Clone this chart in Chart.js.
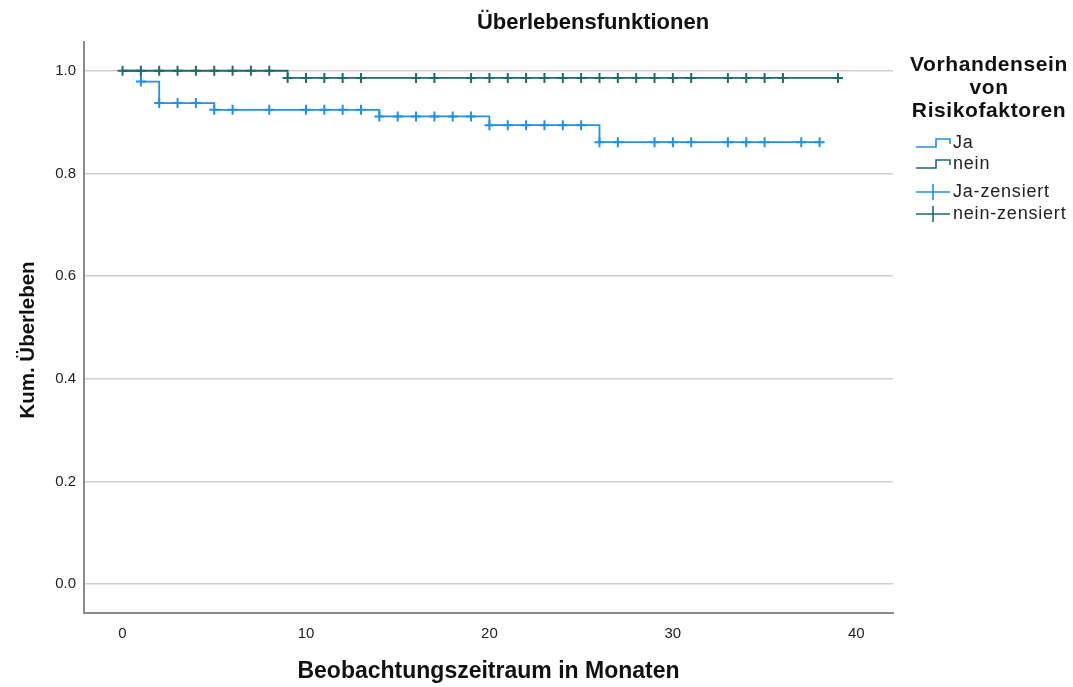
<!DOCTYPE html>
<html>
<head>
<meta charset="utf-8">
<script src="https://cdn.jsdelivr.net/npm/chart.js@4/dist/chart.umd.min.js"></script>
<style>
  html, body { margin: 0; padding: 0; background: #ffffff; }
  #wrap { width: 1073px; height: 687px; position: relative; }
</style>
</head>
<body>
<div id="wrap"><canvas id="km" width="1073" height="687"></canvas></div>
<script>
// Kaplan-Meier step curves (time in months, cumulative survival)
const jaTimes = [0, 1, 2, 5, 14, 20, 26, 38];
const jaSurvival = [1.0, 0.979, 0.937, 0.924, 0.911, 0.894, 0.861, 0.861];
const neinTimes = [0, 9, 39];
const neinSurvival = [1.0, 0.986, 0.986];

// Censoring times per group
const jaCensored = [1, 2, 3, 4, 5, 6, 8, 10, 11, 12, 13, 14, 15, 16, 17, 18, 19,
  20, 21, 22, 23, 24, 25, 26, 27, 29, 30, 31, 33, 34, 35, 37, 38];
const neinCensored = [0, 1, 2, 3, 4, 5, 6, 7, 8, 9, 10, 11, 12, 13, 16, 17, 19,
  20, 21, 22, 23, 24, 25, 26, 27, 28, 29, 30, 31, 33, 34, 35, 36, 39];

// Axis ticks and texts
const xTicks = [0, 10, 20, 30, 40];
const yTicks = [0.0, 0.2, 0.4, 0.6, 0.8, 1.0];
const groupLabels = ['Ja', 'nein'];
const censorLabels = ['Ja-zensiert', 'nein-zensiert'];
const chartTitle = 'Überlebensfunktionen';
const xTitle = 'Beobachtungszeitraum in Monaten';
const yTitle = 'Kum. Überleben';
const legendTitle = ['Vorhandensein', 'von', 'Risikofaktoren'];

const colJa = '#2290e4';
const colNein = '#1f6b68';
const FONT = "'Liberation Sans', Arial, sans-serif";

function curvePoints(times, surv) {
  return times.map((t, i) => ({ x: t, y: surv[i] }));
}
// survival level of the step curve at time t
function levelAt(times, surv, t) {
  let v = surv[0];
  for (let i = 0; i < times.length; i++) if (times[i] <= t) v = surv[i];
  return v;
}
function censorPoints(cens, times, surv) {
  return cens.map(t => ({ x: t, y: levelAt(times, surv, t) }));
}

const textPlugin = {
  id: 'kmTexts',
  afterDraw(chart) {
    const ctx = chart.ctx;
    const area = chart.chartArea;
    ctx.save();
    ctx.fillStyle = '#111111';
    ctx.textAlign = 'center';
    ctx.textBaseline = 'middle';

    ctx.font = 'bold 22px ' + FONT;
    ctx.fillText(chartTitle, 593, 23);

    ctx.font = 'bold 23px ' + FONT;
    ctx.fillText(xTitle, (area.left + area.right) / 2, 672);

    ctx.save();
    ctx.translate(28, 340);
    ctx.rotate(-Math.PI / 2);
    ctx.font = 'bold 20.5px ' + FONT;
    ctx.fillText(yTitle, 0, 0);
    ctx.restore();

    // legend
    ctx.font = 'bold 21px ' + FONT;
    ctx.letterSpacing = '0.6px';
    legendTitle.forEach((s, i) => ctx.fillText(s, 989, 65 + i * 23));

    const x0 = 916, x1 = 950;
    ctx.lineWidth = 1.6;
    const stepRows = [143, 164];
    [colJa, colNein].forEach((c, i) => {
      const y = stepRows[i];
      ctx.strokeStyle = c;
      ctx.beginPath();
      ctx.moveTo(x0, y + 4);
      ctx.lineTo(936, y + 4);
      ctx.lineTo(936, y - 4);
      ctx.lineTo(x1, y - 4);
      ctx.lineTo(x1, y + 1);
      ctx.stroke();
    });
    const crossRows = [192, 214];
    [colJa, colNein].forEach((c, i) => {
      const y = crossRows[i];
      ctx.strokeStyle = c;
      ctx.beginPath();
      ctx.moveTo(x0, y);
      ctx.lineTo(x1, y);
      ctx.moveTo(933, y - 8);
      ctx.lineTo(933, y + 8);
      ctx.stroke();
    });

    ctx.textAlign = 'left';
    ctx.font = '18px ' + FONT;
    ctx.letterSpacing = '0.8px';
    ctx.fillStyle = '#222222';
    groupLabels.forEach((s, i) => ctx.fillText(s, 953, stepRows[i]));
    censorLabels.forEach((s, i) => ctx.fillText(s, 953, crossRows[i]));
    ctx.restore();
  }
};

new Chart(document.getElementById('km'), {
  type: 'scatter',
  data: {
    datasets: [
      {
        label: censorLabels[1],
        data: censorPoints(neinCensored, neinTimes, neinSurvival),
        pointStyle: 'cross', pointRadius: 5, pointBorderWidth: 2,
        borderColor: colNein, backgroundColor: colNein, showLine: false
      },
      {
        label: groupLabels[1],
        data: curvePoints(neinTimes, neinSurvival),
        showLine: true, stepped: true, pointRadius: 0,
        borderColor: colNein, borderWidth: 1.8, fill: false
      },
      {
        label: censorLabels[0],
        data: censorPoints(jaCensored, jaTimes, jaSurvival),
        pointStyle: 'cross', pointRadius: 5, pointBorderWidth: 2,
        borderColor: colJa, backgroundColor: colJa, showLine: false
      },
      {
        label: groupLabels[0],
        data: curvePoints(jaTimes, jaSurvival),
        showLine: true, stepped: true, pointRadius: 0,
        borderColor: colJa, borderWidth: 1.8, fill: false
      }
    ]
  },
  options: {
    responsive: false,
    animation: false,
    devicePixelRatio: 1,
    layout: { padding: { top: 42, right: 180, bottom: 0, left: 0 } },
    plugins: { legend: { display: false }, tooltip: { enabled: false }, title: { display: false } },
    scales: {
      x: {
        type: 'linear', min: -2.1, max: 42,
        afterBuildTicks: s => { s.ticks = xTicks.map(v => ({ value: v })); },
        afterFit: s => { s.height = 74; },
        grid: { display: false, drawTicks: false },
        border: { display: true, color: '#8a8a8a', width: 2 },
        ticks: { padding: 12, color: '#222222', font: { family: FONT, size: 15 },
                 callback: v => String(v) }
      },
      y: {
        type: 'linear', min: -0.056, max: 1.056,
        afterBuildTicks: s => { s.ticks = yTicks.map(v => ({ value: v })); },
        afterFit: s => { s.width = 84; },
        grid: { color: '#cfcfcf', lineWidth: 1.5, drawTicks: false },
        border: { display: true, color: '#8a8a8a', width: 2 },
        ticks: { padding: 8, color: '#222222', font: { family: FONT, size: 15 },
                 callback: v => Number(v).toFixed(1) }
      }
    }
  },
  plugins: [textPlugin]
});
</script>
</body>
</html>
